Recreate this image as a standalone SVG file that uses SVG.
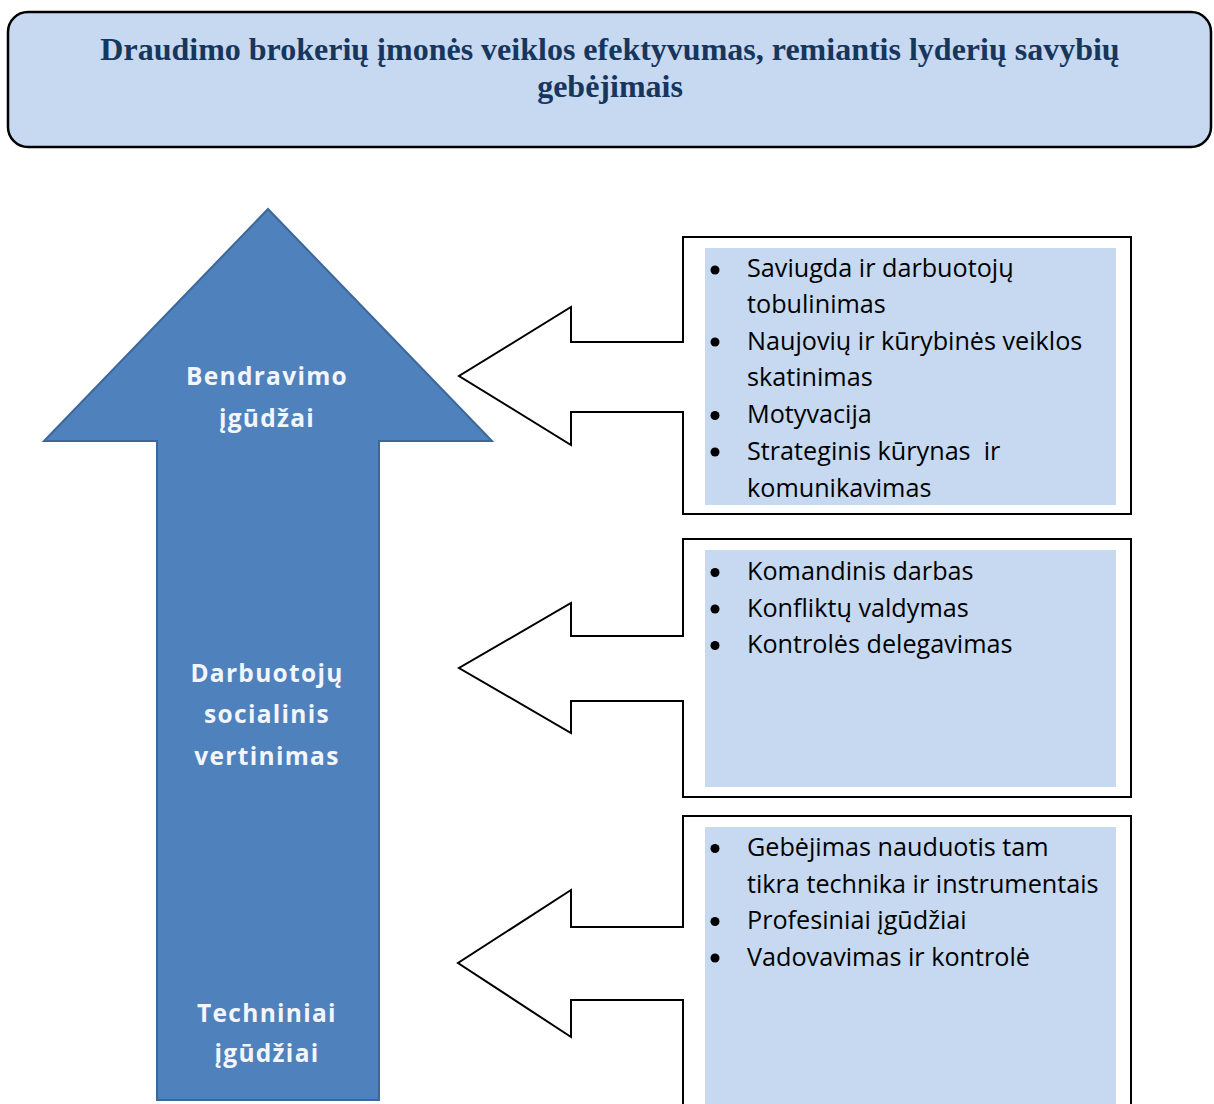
<svg xmlns="http://www.w3.org/2000/svg" width="1214" height="1104" viewBox="0 0 1214 1104">
<style>
.title{font-family:"Liberation Serif","Times New Roman",serif;font-weight:bold;font-size:32px;fill:#17365d;text-anchor:middle}
.lbl{font-family:"Open Sans","DejaVu Sans",sans-serif;font-weight:bold;font-size:24.5px;fill:#f2f6fb;text-anchor:middle;letter-spacing:1.3px}
.item{font-family:"Open Sans","DejaVu Sans",sans-serif;font-size:25.2px;fill:#000;white-space:pre}
.call{fill:#fff;stroke:#000;stroke-width:2;stroke-linejoin:miter}
.inner{fill:#c6d9f1}
.dot{fill:#000}
</style>
<rect width="1214" height="1104" fill="#fff"/>
<g id="title-box">
<rect x="8" y="12" width="1203" height="135" rx="20" ry="20" fill="#c6d9f1" stroke="#000" stroke-width="2.5"/>
<text class="title" x="610" y="60">Draudimo brokerių įmonės veiklos efektyvumas, remiantis lyderių savybių</text>
<text class="title" x="610" y="97">gebėjimais</text>
</g>
<g id="main-arrow">
<polygon points="268,209 492,441 379,441 379,1100 157,1100 157,441 44,441" fill="#4f81bd" stroke="#3c679b" stroke-width="2"/>
<text class="lbl" x="267" y="385">Bendravimo</text>
<text class="lbl" x="267" y="427">įgūdžai</text>
<text class="lbl" x="267" y="682">Darbuotojų</text>
<text class="lbl" x="267" y="723">socialinis</text>
<text class="lbl" x="267" y="765">vertinimas</text>
<text class="lbl" x="267" y="1022">Techniniai</text>
<text class="lbl" x="267" y="1062">įgūdžiai</text>
</g>
<g id="connectors">
<path class="call" d="M683,342 L683,237 L1131,237 L1131,514 L683,514 L683,412 L571,412 L571,445 L459,376 L571,307 L571,342 Z"/>
<path class="call" d="M683,636 L683,539 L1131,539 L1131,797 L683,797 L683,701 L571,701 L571,733 L459,668 L571,603 L571,636 Z"/>
<path class="call" d="M683,927 L683,816 L1131,816 L1131,1110 L683,1110 L683,1000 L571,1000 L571,1037 L458,963 L571,890 L571,927 Z"/>
</g>
<g id="box-communication">
<rect class="inner" x="705" y="248" width="411" height="257"/>
<circle class="dot" cx="715" cy="270" r="4.5"/>
<circle class="dot" cx="715" cy="342" r="4.5"/>
<circle class="dot" cx="715" cy="415.5" r="4.5"/>
<circle class="dot" cx="715" cy="452" r="4.5"/>
<text class="item" x="747" y="277">Saviugda ir darbuotojų</text>
<text class="item" x="747" y="313">tobulinimas</text>
<text class="item" x="747" y="349.5">Naujovių ir kūrybinės veiklos</text>
<text class="item" x="747" y="386">skatinimas</text>
<text class="item" x="747" y="423">Motyvacija</text>
<text class="item" x="747" y="459.5" xml:space="preserve">Strateginis kūrynas  ir</text>
<text class="item" x="747" y="496.5">komunikavimas</text>
</g>
<g id="box-social">
<rect class="inner" x="705" y="550" width="411" height="237"/>
<circle class="dot" cx="715" cy="572.5" r="4.5"/>
<circle class="dot" cx="715" cy="609" r="4.5"/>
<circle class="dot" cx="715" cy="645.5" r="4.5"/>
<text class="item" x="747" y="580">Komandinis darbas</text>
<text class="item" x="747" y="616.5">Konfliktų valdymas</text>
<text class="item" x="747" y="653">Kontrolės delegavimas</text>
</g>
<g id="box-technical">
<rect class="inner" x="705" y="827" width="411" height="277"/>
<circle class="dot" cx="715" cy="848.5" r="4.5"/>
<circle class="dot" cx="715" cy="921.5" r="4.5"/>
<circle class="dot" cx="715" cy="958" r="4.5"/>
<text class="item" x="747" y="856">Gebėjimas nauduotis tam</text>
<text class="item" x="747" y="892.5">tikra technika ir instrumentais</text>
<text class="item" x="747" y="929">Profesiniai įgūdžiai</text>
<text class="item" x="747" y="965.5">Vadovavimas ir kontrolė</text>
</g>
</svg>
